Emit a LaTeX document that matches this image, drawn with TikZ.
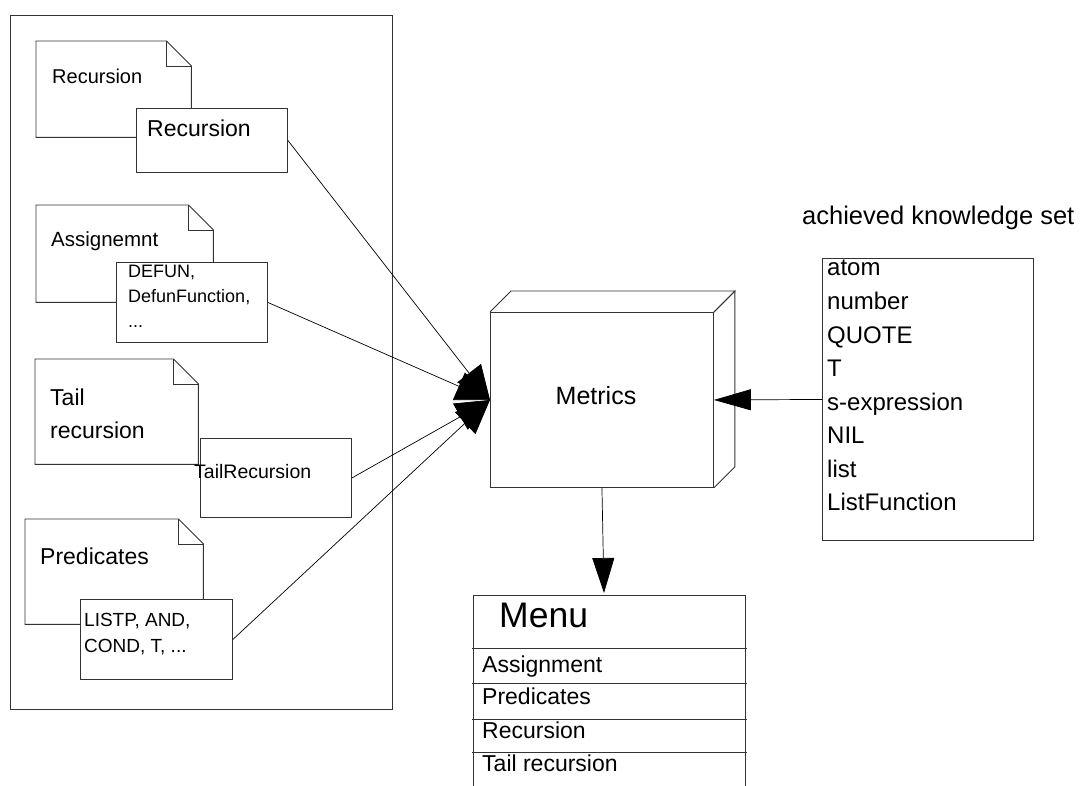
\documentclass[tikz,border=0pt]{standalone}
\usepackage{fontspec}
\setmainfont{Liberation Sans}
\usetikzlibrary{arrows.meta,calc}
\newcommand\fsz[1]{\fontsize{#1}{#1}\selectfont}
% note outline with a folded top-right corner, drawn around an empty node
\newcommand\dogear[2]{%
  \draw[outline] (#1.south west) -- (#1.north west) -- ($(#1.north east)+(-#2,0)$)
    -- ($(#1.north east)+(0,#2)$) -- (#1.south east) -- cycle;
  \draw[outline] ($(#1.north east)+(-#2,0)$) -- ++(0,#2) -- ($(#1.north east)+(0,#2)$);
}
\begin{document}
\begin{tikzpicture}[x=1pt,y=-1pt,
  outline/.style={draw=black!80, line width=0.9pt},
  notebox/.style={inner sep=0pt, anchor=north west},
  panel/.style={outline, fill=white, inner sep=0pt, anchor=north west},
  txt/.style={inner sep=0pt, anchor=base west},
  link/.style={draw=black, line width=0.7pt},
  bighead/.style={-{Triangle[length=34pt,width=30pt]}},
  sidehead/.style={-{Triangle[length=37pt,width=21pt]}},
  downhead/.style={-{Triangle[length=35pt,width=22pt]}}]
\useasboundingbox (0,0) rectangle (1081,786);

% frame holding the topic notes
\node[panel, fill=none, minimum width=382pt, minimum height=694pt] (frame) at (10,15) {};

% topic notes
\node[notebox, minimum width=155pt, minimum height=96pt] (n1) at (36,41) {};
\dogear{n1}{25}
\node[notebox, minimum width=177pt, minimum height=97pt] (n2) at (36,205) {};
\dogear{n2}{25}
\node[notebox, minimum width=163pt, minimum height=105pt] (n3) at (35,359) {};
\dogear{n3}{25}
\node[notebox, minimum width=178pt, minimum height=105pt] (n4) at (25,519) {};
\dogear{n4}{25}

\node[txt, font=\fsz{20}] (n1t) at (52,84) {Recursion};
\node[txt, font=\fsz{20.5}] (n2t) at (51,247) {Assignemnt};
\node[txt, font=\fsz{23}] (n3a) at (50,405) {Tail};
\node[txt, font=\fsz{23}] (n3b) at (50,438) {recursion};
\node[txt, font=\fsz{23}] (n4t) at (40,564) {Predicates};

% keyword boxes laid over the notes
\node[panel, minimum width=151pt, minimum height=64pt] (b1) at (136,108) {};
\node[panel, minimum width=151pt, minimum height=80pt] (b2) at (116,262) {};
\node[panel, minimum width=151pt, minimum height=79pt] (b3) at (200,438) {};
\node[panel, minimum width=152pt, minimum height=80pt] (b4) at (80,599) {};

\node[txt, font=\fsz{23}] (b1t) at (147,137) {Recursion};
\node[txt, font=\fsz{18}] (b2a) at (128,277) {DEFUN,};
\node[txt, font=\fsz{18}] (b2b) at (128,302) {DefunFunction,};
\node[txt, font=\fsz{18}] (b2c) at (128,327) {...};
\node[txt, font=\fsz{19.5}] (b3t) at (194,478) {TailRecursion};
\node[txt, font=\fsz{19}] (b4a) at (84,626) {LISTP, AND,};
\node[txt, font=\fsz{19}] (b4b) at (84,652) {COND, T, ...};

% metrics block
\node[panel, minimum width=223pt, minimum height=175pt] (metrics) at (490,312) {};
\draw[outline] (metrics.north west) -- ++(21,-21) -- ($(metrics.north east)+(21,-21)$) -- (metrics.north east);
\draw[outline] (metrics.north east) -- ++(21,-21) -- ($(metrics.south east)+(21,-21)$) -- (metrics.south east);
\node[inner sep=0pt, font=\fsz{25}] (mtext) at (596,396) {Metrics};

% achieved knowledge set
\node[txt, font=\fsz{25.5}] (ktitle) at (802,225) {achieved knowledge set};
\node[panel, minimum width=211pt, minimum height=282pt] (kset) at (822,258) {};
\foreach \w [count=\i] in {atom,number,QUOTE,T,s-expression,NIL,list,ListFunction}
  \node[txt, font=\fsz{24}] (k\i) at (827,{276+33.5*(\i-1)}) {\w};

% menu
\node[notebox, minimum width=272pt, minimum height=191pt] (menu) at (473,595) {};
\draw[outline] (menu.south west) -- (menu.north west) -- (menu.north east) -- (menu.south east);
\foreach \y in {648,683,719,752}
  \draw[outline] (472,\y) -- (747,\y);
\node[txt, font=\fsz{35.5}] (mtitle) at (499,627) {Menu};
\node[txt, font=\fsz{23}] (m1) at (482,672) {Assignment};
\node[txt, font=\fsz{23}] (m2) at (482,704) {Predicates};
\node[txt, font=\fsz{23}] (m3) at (482,738) {Recursion};
\node[txt, font=\fsz{23}] (m4) at (482,771) {Tail recursion};
\coordinate (menuin) at (604,593);

% connectors
\draw[link, bighead] (b1.east) -- (metrics.west);
\draw[link, bighead] (b2.east) -- (metrics.west);
\draw[link, bighead] (b3.east) -- (metrics.west);
\draw[link, bighead] (b4.east) -- (metrics.west);
\draw[link, sidehead] (kset.west) -- (metrics.east);
\draw[link, downhead] (metrics.south) -- (menuin);
\end{tikzpicture}
\end{document}
